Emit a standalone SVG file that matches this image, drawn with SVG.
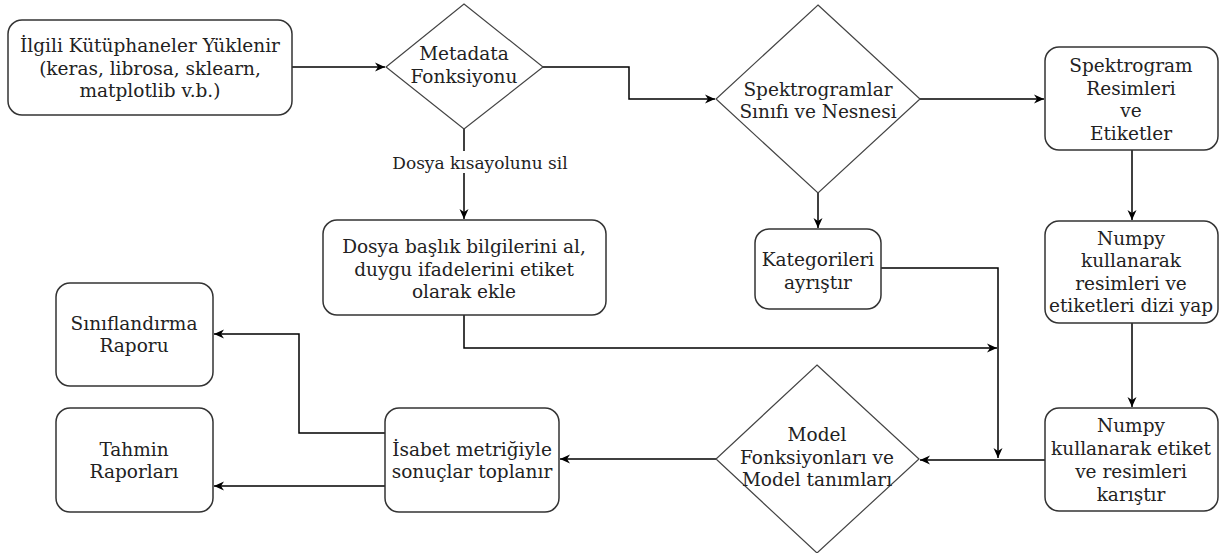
<svg xmlns="http://www.w3.org/2000/svg" width="1223" height="553" viewBox="0 0 1223 553">
<style>
.box{fill:#fff;stroke:#333;stroke-width:1.5}
.dia{fill:#fff;stroke:#444;stroke-width:1.2}
.t{font-family:"DejaVu Serif",serif;font-size:18.5px;fill:#222;text-anchor:middle}
.lbl{font-family:"DejaVu Serif",serif;font-size:17px;fill:#222;text-anchor:middle}
.c{fill:none;stroke:#000;stroke-width:1.5}
</style>
<defs>
<marker id="arr" markerUnits="userSpaceOnUse" markerWidth="12" markerHeight="10" refX="10" refY="5" orient="auto" viewBox="0 0 12 10">
<path d="M0,0.5 L10,5 L0,9.5 L3,5 z" fill="#000"/>
</marker>
</defs>
<rect width="1223" height="553" fill="#fff"/>
<g id="connectors">
<path class="c" d="M292,67 H385" marker-end="url(#arr)"/>
<path class="c" d="M543,67 H629 V99 H715" marker-end="url(#arr)"/>
<path class="c" d="M464,129 V219" marker-end="url(#arr)"/>
<path class="c" d="M920,99 H1044" marker-end="url(#arr)"/>
<path class="c" d="M818,193 V228" marker-end="url(#arr)"/>
<path class="c" d="M1132,150 V220" marker-end="url(#arr)"/>
<path class="c" d="M1132,323 V407" marker-end="url(#arr)"/>
<path class="c" d="M1045,460 H920" marker-end="url(#arr)"/>
<path class="c" d="M881,268 H998 V458" marker-end="url(#arr)"/>
<path class="c" d="M464,315 V348 H997" marker-end="url(#arr)"/>
<path class="c" d="M716,459 H560" marker-end="url(#arr)"/>
<path class="c" d="M385,433 H299 V334 H214" marker-end="url(#arr)"/>
<path class="c" d="M385,486 H214" marker-end="url(#arr)"/>
<rect x="390" y="151" width="180" height="22" fill="#fff"/>
<text class="lbl" x="480" y="168.5">Dosya kısayolunu sil</text>
</g>
<g id="n1">
<rect class="box" x="8" y="20" width="284" height="95" rx="14"/>
<text class="t" x="150" y="52">İlgili Kütüphaneler Yüklenir</text>
<text class="t" x="150" y="74.5">(keras, librosa, sklearn,</text>
<text class="t" x="150" y="97">matplotlib v.b.)</text>
</g>
<g id="d1">
<polygon class="dia" points="464,4 543,67 464,129 386,67"/>
<text class="t" x="464" y="60">Metadata</text>
<text class="t" x="464" y="82.5">Fonksiyonu</text>
</g>
<g id="d2">
<polygon class="dia" points="818,5 920,99 818,193 716,99"/>
<text class="t" x="818" y="96">Spektrogramlar</text>
<text class="t" x="818" y="118">Sınıfı ve Nesnesi</text>
</g>
<g id="n_spek">
<rect class="box" x="1045" y="47" width="173" height="103" rx="14"/>
<text class="t" x="1131" y="72">Spektrogram</text>
<text class="t" x="1131" y="94.5">Resimleri</text>
<text class="t" x="1131" y="117">ve</text>
<text class="t" x="1131" y="139.5">Etiketler</text>
</g>
<g id="n_np1">
<rect class="box" x="1045" y="221" width="173" height="102" rx="14"/>
<text class="t" x="1131" y="244.5">Numpy</text>
<text class="t" x="1131" y="267">kullanarak</text>
<text class="t" x="1131" y="289.5">resimleri ve</text>
<text class="t" x="1131" y="312">etiketleri dizi yap</text>
</g>
<g id="n_np2">
<rect class="box" x="1045" y="408" width="173" height="103" rx="14"/>
<text class="t" x="1131" y="432">Numpy</text>
<text class="t" x="1131" y="455">kullanarak etiket</text>
<text class="t" x="1131" y="478">ve resimleri</text>
<text class="t" x="1131" y="501">karıştır</text>
</g>
<g id="n_kat">
<rect class="box" x="755" y="229" width="126" height="80" rx="14"/>
<text class="t" x="818" y="266">Kategorileri</text>
<text class="t" x="818" y="288.5">ayrıştır</text>
</g>
<g id="n_dosya">
<rect class="box" x="323" y="220" width="283" height="95" rx="14"/>
<text class="t" x="464" y="253">Dosya başlık bilgilerini al,</text>
<text class="t" x="464" y="275.5">duygu ifadelerini etiket</text>
<text class="t" x="464" y="298">olarak ekle</text>
</g>
<g id="d_model">
<polygon class="dia" points="817,365 919,459 817,553 716,459"/>
<text class="t" x="817" y="441">Model</text>
<text class="t" x="817" y="464">Fonksiyonları ve</text>
<text class="t" x="817" y="486">Model tanımları</text>
</g>
<g id="n_isabet">
<rect class="box" x="385" y="408" width="174" height="104" rx="14"/>
<text class="t" x="472" y="455.5">İsabet metriğiyle</text>
<text class="t" x="472" y="478">sonuçlar toplanır</text>
</g>
<g id="n_sinif">
<rect class="box" x="56" y="283" width="157" height="103" rx="14"/>
<text class="t" x="134" y="329.5">Sınıflandırma</text>
<text class="t" x="134" y="352">Raporu</text>
</g>
<g id="n_tahmin">
<rect class="box" x="56" y="408" width="157" height="104" rx="14"/>
<text class="t" x="134" y="455.5">Tahmin</text>
<text class="t" x="134" y="478">Raporları</text>
</g>
</svg>
